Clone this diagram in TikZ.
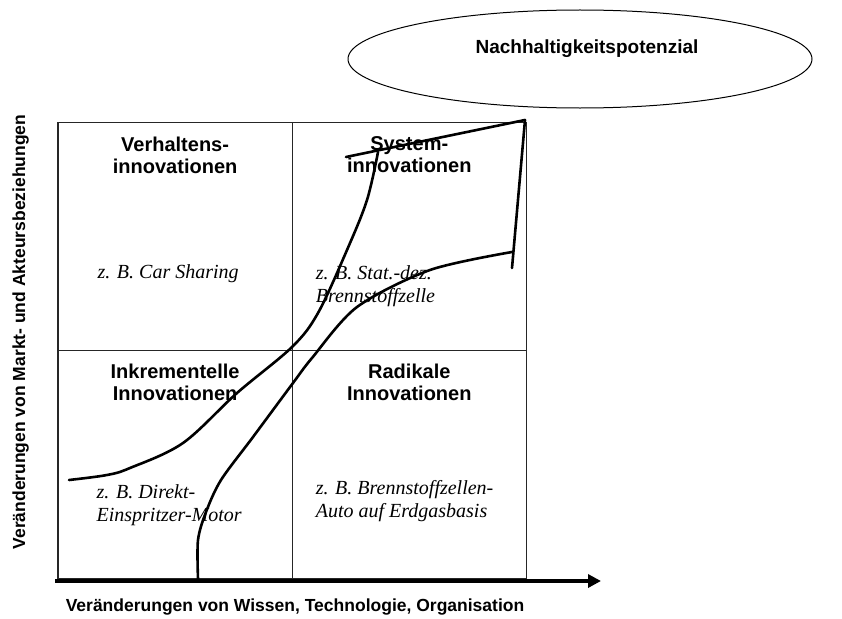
\documentclass[tikz,border=0pt]{standalone}
\usepackage{fontspec}
\setmainfont{Liberation Serif}
\setsansfont{Liberation Sans}
\usetikzlibrary{arrows.meta,positioning,shapes.geometric,matrix}
\tikzset{
every picture/.style={
line width=1pt
}}
\tikzset{
  quad/.style={rectangle, draw=black!85, line width=1.2pt,
    minimum width=234pt, minimum height=228pt, inner sep=0pt, outer sep=0pt},
  heading/.style={font=\sffamily\bfseries\fontsize{20}{22}\selectfont,
    align=center, inner sep=0pt},
  example/.style={font=\itshape\fontsize{20}{23}\selectfont,
    align=left, inner sep=0pt, anchor=north west},
  axislabel/.style={font=\sffamily\bfseries\fontsize{17.5}{21}\selectfont,
    inner sep=0pt, anchor=base},
  trend/.style={line width=2.6pt, line join=round, line cap=round},
  axis/.style={line width=4pt, -{Triangle[length=13pt,width=13pt]}},
}

\begin{document}
\begin{tikzpicture}[x=1pt,y=-1pt]
\useasboundingbox (0,0) rectangle (842,618);
\matrix (m) [matrix of nodes, nodes in empty cells,
    anchor=north west, inner sep=0pt,
    column sep=-\pgflinewidth,
    row sep=-\pgflinewidth,
    nodes={quad},
    ] at (57,121) {
    & \\
    & \\
  };
   % titles of the four fields
   \node [heading, below=14pt of m-1-1.north] (vih) {Verhaltens-\\innovationen};
   \node [heading, below=14pt of m-1-2.north] (sih) {System-\\innovationen};
   \node [heading, below=13pt of m-2-1.north] (iih) {Inkrementelle\\Innovationen};
   \node [heading, below=13pt of m-2-2.north] (rih) {Radikale\\Innovationen};
   % examples
   \node [example, anchor=north] (vie) at ([xshift=-7pt,yshift=-142pt]m-1-1.north) {z. B. Car Sharing};
   \node [example] (sie) at ([xshift=23pt,yshift=-143pt]m-1-2.north west) {z. B. Stat.-dez.\\Brennstoffzelle};
   \node [example] (iie) at ([xshift=38pt,yshift=-134pt]m-2-1.north west) {z. B. Direkt-\\Einspritzer-Motor};
   \node [example] (rie) at ([xshift=23pt,yshift=-130pt]m-2-2.north west) {z. B. Brennstoffzellen-\\Auto auf Erdgasbasis};
   %
   % potential:
   \node [ellipse, draw, minimum width=464pt, minimum height=98pt] (np) at (580,59) {};
   \node [axislabel, font=\sffamily\bfseries\fontsize{19}{22}\selectfont] (npt) at (587,53) {Nachhaltigkeitspotenzial};
   %
   % curves:
   \draw [trend] plot [smooth, tension=0.55] coordinates {(69,480) (107,475) (130,468) (183,443) (237,393) (292,347) (318,313) (347,250) (367,200) (378,152)};
   \draw [trend] (346,157) -- (525,120) -- (512,268);
   \draw [trend] plot [smooth, tension=0.5] coordinates {(198,579) (198,540) (206,512) (221,480) (253,437) (293,383) (312,358) (357,307) (430,270) (512,252)};
   %
   % axes:
   \coordinate (o) at (55,581);
   \coordinate (xend) at (601,581);
   \draw [axis] (o) -- (xend);
   \node [axislabel] (xl) at (295,611) {Veränderungen von Wissen, Technologie, Organisation};
   \node [axislabel, rotate=90] (yl) at (25,332) {Veränderungen von Markt- und Akteursbeziehungen};
\end{tikzpicture}
\end{document}
